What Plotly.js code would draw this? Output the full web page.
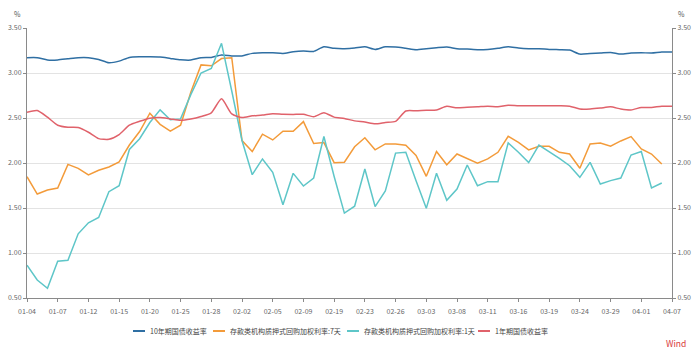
<!DOCTYPE html>
<html>
<head>
<meta charset="utf-8">
<script src="https://cdn.plot.ly/plotly-3.0.1.min.js"></script>
<style>html,body{margin:0;padding:0;background:#fff;}#chart{width:700px;height:356px;}</style>
</head>
<body>
<div id="chart"></div>
<script>
var dates = ["01-04","01-05","01-06","01-07","01-08","01-11","01-12","01-13","01-14","01-15",
"01-18","01-19","01-20","01-21","01-22","01-25","01-26","01-27","01-28","01-29",
"02-01","02-02","02-03","02-04","02-05","02-07","02-08","02-09","02-10","02-18",
"02-19","02-20","02-22","02-23","02-24","02-25","02-26","03-01","03-02","03-03",
"03-04","03-05","03-08","03-09","03-10","03-11","03-12","03-15","03-16","03-17",
"03-18","03-19","03-22","03-23","03-24","03-25","03-26","03-29","03-30","03-31",
"04-01","04-02","04-06","04-07"];

var tickLabels = ["01-04","01-07","01-12","01-15","01-20","01-25","01-28","02-02","02-05","02-09","02-19",
"02-23","02-26","03-03","03-08","03-11","03-16","03-19","03-24","03-29","04-01","04-07"];

var cgb10y = [3.17,3.17,3.145,3.145,3.158,3.17,3.17,3.151,3.114,3.132,
3.173,3.18,3.18,3.177,3.162,3.147,3.144,3.17,3.173,3.20,
3.19,3.19,3.218,3.225,3.225,3.218,3.236,3.244,3.24,3.292,
3.274,3.27,3.277,3.292,3.262,3.292,3.288,3.274,3.259,3.27,
3.281,3.289,3.27,3.266,3.259,3.262,3.274,3.292,3.277,3.27,
3.27,3.262,3.259,3.255,3.21,3.218,3.222,3.229,3.21,3.222,
3.225,3.222,3.233,3.233];

var repo7d = [1.848,1.655,1.70,1.722,1.985,1.941,1.867,1.919,1.956,2.012,
2.20,2.35,2.553,2.43,2.355,2.42,2.787,3.09,3.08,3.16,
3.17,2.249,2.127,2.32,2.256,2.353,2.353,2.46,2.216,2.227,
2.004,2.008,2.18,2.28,2.146,2.212,2.212,2.197,2.085,1.852,
2.127,1.98,2.10,2.052,1.997,2.045,2.119,2.297,2.23,2.145,
2.186,2.186,2.119,2.10,1.941,2.212,2.223,2.186,2.245,2.294,
2.156,2.10,1.989,null];

var repo1d = [0.865,0.70,0.608,0.909,0.92,1.213,1.336,1.395,1.681,1.748,
2.15,2.27,2.45,2.59,2.48,2.49,2.76,3.0,3.05,3.33,
2.80,2.25,1.87,2.045,1.897,1.537,1.885,1.744,1.833,2.294,
1.85,1.443,1.52,1.934,1.516,1.69,2.11,2.12,1.804,1.496,
1.887,1.585,1.711,1.978,1.748,1.793,1.793,2.223,2.119,2.004,
2.20,2.13,2.052,1.97,1.841,2.007,1.767,1.804,1.833,2.089,
2.127,1.722,1.778,null];

var cgb1y = [2.565,2.583,2.509,2.42,2.397,2.394,2.342,2.271,2.264,2.316,
2.42,2.463,2.498,2.505,2.49,2.474,2.488,2.516,2.558,2.714,
2.545,2.505,2.524,2.532,2.548,2.541,2.54,2.541,2.514,2.558,
2.51,2.495,2.468,2.455,2.435,2.45,2.462,2.578,2.58,2.587,
2.59,2.63,2.613,2.62,2.624,2.631,2.624,2.642,2.635,2.635,
2.635,2.635,2.635,2.631,2.60,2.60,2.61,2.624,2.60,2.59,
2.617,2.617,2.631,2.631];

var names = ["10年期国债收益率","存款类机构质押式回购加权利率:7天","存款类机构质押式回购加权利率:1天","1年期国债收益率"];
var colors = ["#2f6fa3","#f39b3a","#5ec6c8","#e0626b"];

var FONT = "Noto Sans CJK SC, Noto Sans, sans-serif";

var traces = [
  {x: dates, y: cgb10y, name: names[0], type: "scatter", mode: "lines", line: {color: colors[0], width: 1.5, shape: "spline", smoothing: 0.6}},
  {x: dates, y: repo7d, name: names[1], type: "scatter", mode: "lines", line: {color: colors[1], width: 1.5}},
  {x: dates, y: repo1d, name: names[2], type: "scatter", mode: "lines", line: {color: colors[2], width: 1.5}},
  {x: dates, y: cgb1y, name: names[3], type: "scatter", mode: "lines", line: {color: colors[3], width: 1.5, shape: "spline", smoothing: 0.6}},
  {x: dates, y: cgb10y, yaxis: "y2", type: "scatter", mode: "lines", showlegend: false, hoverinfo: "skip", opacity: 0, line: {width: 0}}
];

var axisY = {
  range: [0.5, 3.5], tickvals: [0.5,1,1.5,2,2.5,3,3.5], ticktext: ["0.50","1.00","1.50","2.00","2.50","3.00","3.50"],
  showgrid: true, gridcolor: "#e3e3e3", gridwidth: 1, zeroline: false,
  showline: true, linecolor: "#8a8a8a", linewidth: 1,
  ticks: "outside", ticklen: 3, tickcolor: "#8a8a8a",
  tickfont: {family: FONT, size: 7, color: "#666"}, fixedrange: true
};

// custom compact legend (positions in pixels -> paper)
var PL = 27, PW = 645, PT = 28, PH = 270;
function px2x(px) { return (px - PL) / PW; }
function py2y(py) { return (PT + PH - py) / PH; }
var legendLineX = [133, 213, 347, 478];
var legendY = 331;
var shapes = [], annotations = [];
for (var k = 0; k < names.length; k++) {
  shapes.push({type: "line", xref: "paper", yref: "paper",
    x0: px2x(legendLineX[k]), x1: px2x(legendLineX[k] + 12), y0: py2y(legendY), y1: py2y(legendY),
    line: {color: colors[k], width: 2}});
  annotations.push({text: names[k], xref: "paper", yref: "paper",
    x: px2x(legendLineX[k] + 15), y: py2y(legendY), xanchor: "left", yanchor: "middle",
    showarrow: false, font: {family: FONT, size: 7, color: "#444"}});
}
annotations.push({text: "%", xref: "paper", yref: "paper", x: 0, y: 1.05, xanchor: "right", yanchor: "middle", xshift: -4, showarrow: false, font: {family: FONT, size: 7, color: "#555"}});
annotations.push({text: "%", xref: "paper", yref: "paper", x: 1, y: 1.05, xanchor: "left", yanchor: "middle", xshift: 4, showarrow: false, font: {family: FONT, size: 7, color: "#555"}});
annotations.push({text: "Wind", xref: "paper", yref: "paper", x: px2x(676), y: py2y(343), xanchor: "center", yanchor: "middle", showarrow: false, font: {family: FONT, size: 8.5, color: "#d8383a"}});

var layout = {
  width: 700, height: 356,
  margin: {l: PL, r: 700 - PL - PW, t: PT, b: 356 - PT - PH},
  paper_bgcolor: "#fff", plot_bgcolor: "#fff",
  showlegend: false,
  xaxis: {
    type: "category", range: [0, dates.length - 1],
    tickmode: "array", tickvals: tickLabels, ticktext: tickLabels,
    showgrid: false, zeroline: false, showline: true, linecolor: "#8a8a8a", linewidth: 1,
    ticks: "outside", ticklen: 3, tickcolor: "#8a8a8a", ticklabelstandoff: 4,
    tickfont: {family: FONT, size: 7, color: "#666"}, tickangle: 0
  },
  yaxis: axisY,
  yaxis2: Object.assign({}, axisY, {overlaying: "y", side: "right", showgrid: false}),
  shapes: shapes,
  annotations: annotations
};

Plotly.newPlot("chart", traces, layout, {displayModeBar: false, staticPlot: true});
</script>
</body>
</html>
